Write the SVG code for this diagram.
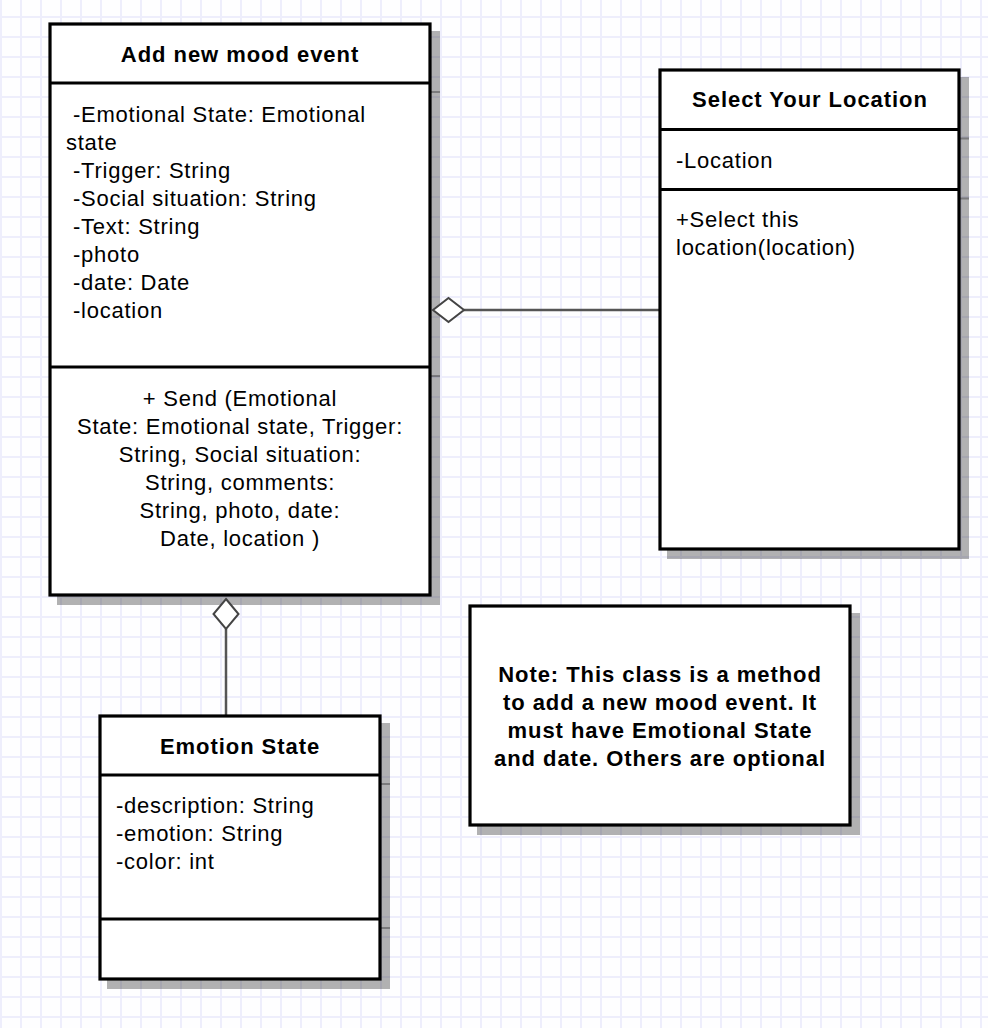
<svg xmlns="http://www.w3.org/2000/svg" width="988" height="1028" viewBox="0 0 988 1028">
<defs>
<pattern id="grid" x="0" y="0" width="20" height="20" patternUnits="userSpaceOnUse">
<rect x="0" y="0" width="20" height="20" fill="#fefeff"/>
<rect x="0" y="0" width="2" height="20" fill="#eeeefc"/>
<rect x="0" y="16" width="20" height="2" fill="#eeeefc"/>
</pattern>
<style>
.box{fill:#fff;stroke:#000;stroke-width:3.2}
.div{stroke:#000;stroke-width:3}
.sh rect{fill:#000;fill-opacity:0.3;stroke:none}
.sh line{stroke:#000;stroke-opacity:0.3;stroke-width:2}
.t{font-family:"Liberation Sans",Arial,sans-serif;font-size:22px;letter-spacing:0.75px;fill:#000}
.b{font-family:"Liberation Sans",Arial,sans-serif;font-size:22px;font-weight:bold;letter-spacing:0.95px;fill:#000}
.c{text-anchor:middle}
.conn{stroke:#555;stroke-width:2.5;fill:none}
.dia{fill:#fff;stroke:#444;stroke-width:2}
</style>
</defs>
<rect x="0" y="0" width="988" height="1028" fill="url(#grid)"/>

<g id="shadows" class="sh">
<rect x="57" y="31" width="383" height="574"/>
<line x1="430" y1="92" x2="440" y2="92"/>
<line x1="430" y1="376" x2="440" y2="376"/>
<rect x="667" y="77" width="302" height="482"/>
<line x1="959" y1="138.5" x2="969" y2="138.5"/>
<line x1="959" y1="198.5" x2="969" y2="198.5"/>
<rect x="107" y="723" width="283" height="266"/>
<line x1="380" y1="784" x2="390" y2="784"/>
<line x1="380" y1="928" x2="390" y2="928"/>
<rect x="477" y="613" width="383" height="222"/>
</g>

<g id="connectors">
<line class="conn" x1="464" y1="310" x2="660" y2="310"/>
<polygon class="dia" points="433,310 448.5,298 464,310 448.5,322"/>
<line class="conn" x1="226" y1="629" x2="226" y2="716"/>
<polygon class="dia" points="226,599 238.5,614 226,629 213.5,614"/>
</g>

<g id="add-new-mood-event">
<rect class="box" x="50" y="24" width="380" height="571"/>
<line class="div" x1="50" y1="83" x2="430" y2="83"/>
<line class="div" x1="50" y1="367" x2="430" y2="367"/>
<text class="b c" x="240" y="62">Add new mood event</text>
<text class="t" x="73" y="122">-Emotional State: Emotional</text>
<text class="t" x="66" y="150">state</text>
<text class="t" x="73" y="178">-Trigger: String</text>
<text class="t" x="73" y="206">-Social situation: String</text>
<text class="t" x="73" y="234">-Text: String</text>
<text class="t" x="73" y="262">-photo</text>
<text class="t" x="73" y="290">-date: Date</text>
<text class="t" x="73" y="318">-location</text>
<text class="t c" x="240" y="406">+ Send (Emotional</text>
<text class="t c" x="240" y="434">State: Emotional state, Trigger:</text>
<text class="t c" x="240" y="462">String, Social situation:</text>
<text class="t c" x="240" y="490">String, comments:</text>
<text class="t c" x="240" y="518">String, photo, date:</text>
<text class="t c" x="240" y="546">Date, location )</text>
</g>

<g id="select-your-location">
<rect class="box" x="660" y="70" width="299" height="479"/>
<line class="div" x1="660" y1="129.5" x2="959" y2="129.5"/>
<line class="div" x1="660" y1="189.5" x2="959" y2="189.5"/>
<text class="b c" x="810" y="107">Select Your Location</text>
<text class="t" x="676" y="168">-Location</text>
<text class="t" x="676" y="227">+Select this</text>
<text class="t" x="676" y="255">location(location)</text>
</g>

<g id="emotion-state">
<rect class="box" x="100" y="716" width="280" height="263"/>
<line class="div" x1="100" y1="775" x2="380" y2="775"/>
<line class="div" x1="100" y1="919" x2="380" y2="919"/>
<text class="b c" x="240" y="754">Emotion State</text>
<text class="t" x="116" y="813">-description: String</text>
<text class="t" x="116" y="841">-emotion: String</text>
<text class="t" x="116" y="869">-color: int</text>
</g>

<g id="note">
<rect class="box" x="470" y="606" width="380" height="219"/>
<text class="b c" x="660" y="682">Note: This class is a method</text>
<text class="b c" x="660" y="710">to add a new mood event. It</text>
<text class="b c" x="660" y="738">must have Emotional State</text>
<text class="b c" x="660" y="766">and date. Others are optional</text>
</g>
</svg>
